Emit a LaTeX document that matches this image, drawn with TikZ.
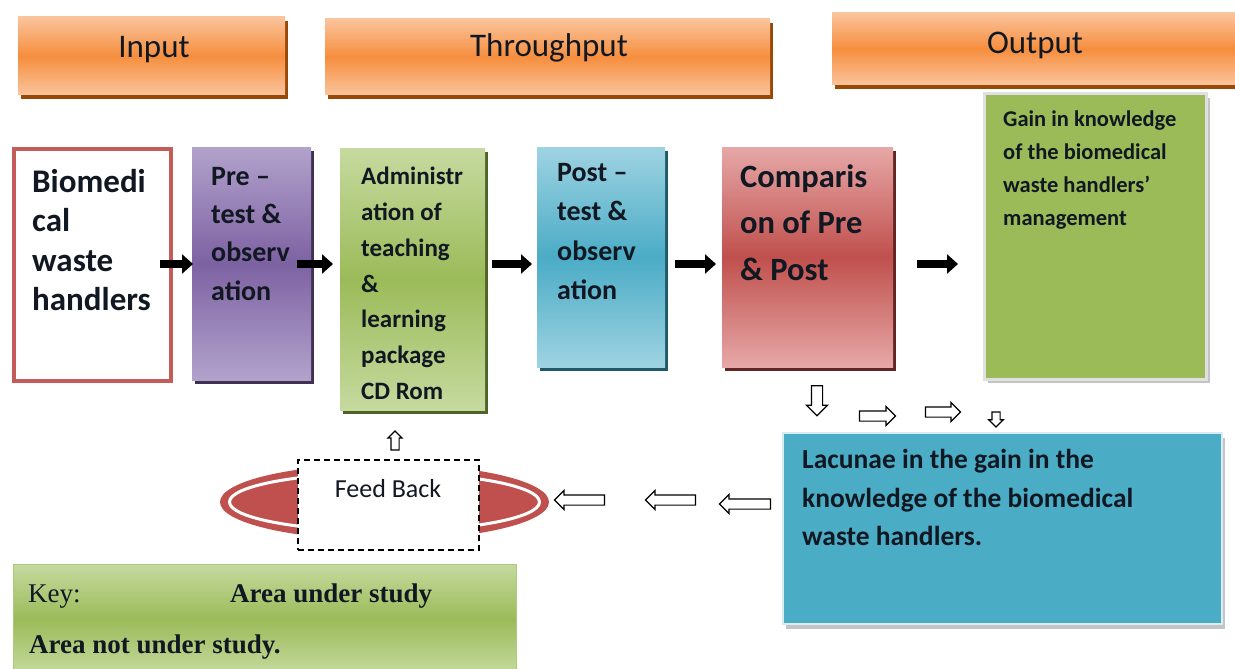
\documentclass[tikz,border=0pt]{standalone}
\usepackage{fontspec}
\setmainfont{Carlito}
\newfontfamily\keyfont{Liberation Serif}
\usetikzlibrary{shapes.arrows,shapes.geometric,arrows.meta}
\definecolor{orL}{HTML}{FAC49C}
\definecolor{orM}{HTML}{F68E3E}
\definecolor{orD}{HTML}{984807}
\definecolor{puL}{HTML}{B2A2CC}
\definecolor{puM}{HTML}{7D62A2}
\definecolor{puD}{HTML}{3F3151}
\definecolor{grL}{HTML}{C6DA9F}
\definecolor{grM}{HTML}{9BBB59}
\definecolor{grD}{HTML}{4F6228}
\definecolor{blL}{HTML}{9ED3E2}
\definecolor{blM}{HTML}{4BACC6}
\definecolor{blD}{HTML}{215968}
\definecolor{rdL}{HTML}{E6A8A7}
\definecolor{rdM}{HTML}{C0504D}
\definecolor{rdD}{HTML}{632523}
\definecolor{bioR}{HTML}{C65C5A}
\definecolor{txtC}{HTML}{111822}
\definecolor{shGray}{HTML}{C4C4C4}
\begin{document}
\begin{tikzpicture}[x=1pt,y=-1pt,
  box/.style={anchor=north west, inner sep=0pt, outer sep=0pt},
  shad/.style={preaction={fill=#1, transform canvas={xshift=3pt,yshift=-4pt}}},
  grad/.style n args={3}{top color=#1, bottom color=#1, middle color=#2, shad=#3},
  txt/.style={anchor=north west, inner sep=0pt, align=left, text=txtC},
  hdrtxt/.style={anchor=base, inner sep=0pt, text=txtC, font=\fontsize{33}{39}\selectfont},
  blk/.style={line width=8pt, draw=black, -{Triangle[width=19pt,length=11pt]}},
  hol/.style={single arrow, draw=black, fill=white, line width=1.2pt, inner sep=#1, outer sep=0pt},
  keytxt/.style={anchor=base west, inner sep=0pt, text=txtC, font=\keyfont\fontsize{27}{32}\selectfont}
]
\useasboundingbox (0,0) rectangle (1235,669);
\fill[white] (0,0) rectangle (1235,669);

% headers
\node[box, grad={orL}{orM}{orD}, minimum width=267pt, minimum height=78pt] (hin) at (18,17) {};
\node[box, grad={orL}{orM}{orD}, minimum width=445pt, minimum height=76pt] (hthr) at (325,19) {};
\node[box, grad={orL}{orM}{orD}, minimum width=410pt, minimum height=72pt] (hout) at (832,13) {};
\node[hdrtxt] (hint) at (154,58) {Input};
\node[hdrtxt] (hthrt) at (549,57) {Throughput};
\node[hdrtxt] (houtt) at (1035,54) {Output};

% main boxes
\node[box, fill=white, draw=bioR, line width=4pt, minimum width=157pt, minimum height=232pt] (bio) at (14,149) {};
\node[box, grad={puL}{puM}{puD}, minimum width=119pt, minimum height=233pt] (pre) at (192,147) {};
\node[box, grad={grL}{grM}{grD}, minimum width=145pt, minimum height=262pt] (adm) at (340,148) {};
\node[box, grad={blL}{blM}{blD}, minimum width=128pt, minimum height=220pt] (post) at (537,147) {};
\node[box, grad={rdL}{rdM}{rdD}, minimum width=171pt, minimum height=220pt] (comp) at (722,147) {};
\node[box, fill=grM, draw=white!88!black, line width=3pt, minimum width=222pt, minimum height=285pt,
      preaction={fill=shGray, transform canvas={xshift=4pt,yshift=-4pt}}] (gain) at (984,94) {};
\node[box, fill=blM, draw=blL!40!white, line width=2pt, minimum width=439pt, minimum height=191pt,
      preaction={fill=shGray, transform canvas={xshift=3pt,yshift=-5pt}}] (lac) at (783,433) {};

% texts
\node[txt, font=\fontsize{33}{39.5}\selectfont\bfseries] (biot) at (32,169) {Biomedi\\cal\\waste\\handlers};
\node[txt, font=\fontsize{28}{38.3}\selectfont\bfseries] (pret) at (211,167) {Pre –\\test \&\\observ\\ation};
\node[txt, font=\fontsize{25}{35.8}\selectfont\bfseries] (admt) at (361,167) {Administr\\ation of\\teaching\\\&\\learning\\package\\CD Rom};
\node[txt, font=\fontsize{28}{39.5}\selectfont\bfseries] (postt) at (557,163) {Post –\\test \&\\observ\\ation};
\node[txt, font=\fontsize{32.5}{46.5}\selectfont\bfseries] (compt) at (740,164) {Comparis\\on of Pre\\\& Post};
\node[txt, font=\fontsize{22.5}{32.8}\selectfont\bfseries] (gaint) at (1003,111) {Gain in knowledge\\of the biomedical\\waste handlers’\\management};
\node[txt, font=\fontsize{27.5}{38.5}\selectfont\bfseries] (lact) at (802,449) {Lacunae in the gain in  the\\knowledge of the biomedical\\waste handlers.};

% row coordinate for black arrows
\coordinate (row) at (0,264);
\draw[blk] ([xshift=-11pt]bio.east |- row) -- ([xshift=1pt]pre.west |- row);
\draw[blk] ([xshift=-14pt]pre.east |- row) -- ([xshift=-7pt]adm.west |- row);
\draw[blk] ([xshift=7pt]adm.east |- row) -- ([xshift=-5pt]post.west |- row);
\draw[blk] ([xshift=10pt]post.east |- row) -- ([xshift=-6pt]comp.west |- row);
\draw[blk] ([xshift=24pt]comp.east |- row) -- ([xshift=-26pt]gain.west |- row);

% feedback ellipse
\node[ellipse, fill=rdM, inner sep=0pt, minimum width=329pt, minimum height=76pt] (fbell) at (384.5,502) {};
\draw[white, line width=3pt] (fbell.center) ellipse [x radius=155pt, y radius=29pt];
\node[box, fill=white, draw=black, dashed, dash pattern=on 6pt off 4pt, line width=1.3pt, minimum width=181pt, minimum height=90pt] (fb) at (298,460) {};
\node[anchor=base, inner sep=0pt, text=txtC, font=\fontsize{26}{30}\selectfont] (fbt) at (388,497) {Feed Back};

% hollow arrows
\node[hol=5pt, single arrow head extend=5pt, minimum height=30pt, shape border rotate=270] (d1) at (817,398) {};
\node[hol=4.5pt, single arrow head extend=4.5pt, minimum height=36pt] (r1) at (875,416) {};
\node[hol=4.5pt, single arrow head extend=4.5pt, minimum height=35pt] (r2) at (940.5,412) {};
\node[hol=3.5pt, single arrow head extend=3.2pt, minimum height=15pt, shape border rotate=270] (d2) at (996,417.5) {};
\node[hol=4.5pt, single arrow head extend=4.5pt, minimum height=51pt, shape border rotate=180] (l1) at (747.5,504) {};
\node[hol=4.5pt, single arrow head extend=4.5pt, minimum height=50pt, shape border rotate=180] (l2) at (673,500) {};
\node[hol=4.5pt, single arrow head extend=4.5pt, minimum height=50pt, shape border rotate=180] (l3) at (582,500) {};
\node[hol=3.5pt, single arrow head extend=3pt, minimum height=19pt, shape border rotate=90] (u1) at (395,442.5) {};

% key
\node[box, top color=grL, bottom color=grL, middle color=grM, draw=grM!80!white, line width=1pt, minimum width=503pt, minimum height=110pt] (key) at (13,564) {};
\node[keytxt] (k1) at (28,602) {Key:};
\node[keytxt, font=\keyfont\bfseries\fontsize{27}{32}\selectfont] (k2) at (230,602) {Area under study};
\node[keytxt, font=\keyfont\bfseries\fontsize{27}{32}\selectfont] (k3) at (29,653) {Area not under study.};
\end{tikzpicture}
\end{document}
